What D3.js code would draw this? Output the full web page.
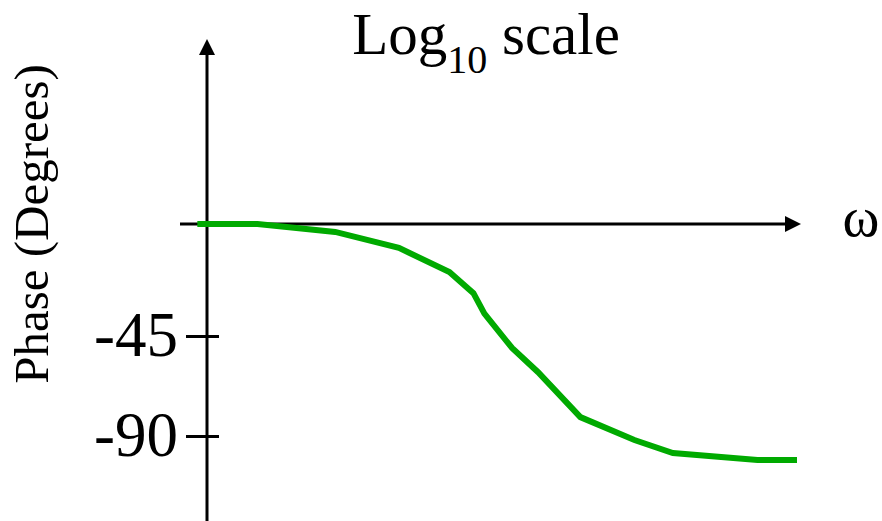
<!DOCTYPE html>
<html>
<head>
<meta charset="utf-8">
<script src="https://cdn.jsdelivr.net/npm/d3@7"></script>
<style>
  html, body { margin: 0; padding: 0; background: #fff; }
  svg { display: block; }
  text { font-family: "Liberation Serif", "Times New Roman", serif; fill: #000; }
</style>
</head>
<body>
<svg id="chart" width="882" height="521"></svg>
<script>
// ---- data ----
const omega = [0.0086, 0.022, 0.074, 0.20, 0.44, 0.64, 0.76, 1.17, 1.75, 3.4, 7.9, 14.4, 54, 100];
const phase = [0, 0, -3.2, -9.6, -19.3, -27.8, -36.0, -50.4, -61.2, -81.5, -91.8, -97.7, -100.8, -100.8];
const yTickValues = [-45, -90];
const yTickLabels = ["-45", "-90"];
const titleMain = "Log";
const titleSub = "10";
const titleRest = " scale";
const yLabel = "Phase (Degrees)";
const xLabel = "ω";

const svg = d3.select("#chart");
const W = 882, H = 521;

// scales
const x = d3.scaleLog().domain([0.01, 100]).range([207, 797]);
const y = d3.scaleLinear().domain([0, -45, -90]).range([224, 336, 436]);

const axisX = x(0.01);
const axisY = y(0);

// arrow marker
const defs = svg.append("defs");
defs.append("marker")
  .attr("id", "arrow")
  .attr("viewBox", "0 0 16 16")
  .attr("refX", 1).attr("refY", 8)
  .attr("markerWidth", 16).attr("markerHeight", 16)
  .attr("markerUnits", "userSpaceOnUse")
  .attr("orient", "auto")
  .append("path")
  .attr("d", "M0,0 L16,8 L0,16 Z")
  .attr("fill", "#000");

// horizontal axis (phase = 0)
svg.append("line")
  .attr("x1", 180).attr("y1", axisY)
  .attr("x2", 786).attr("y2", axisY)
  .attr("stroke", "#000").attr("stroke-width", 3)
  .attr("marker-end", "url(#arrow)");

// vertical axis
svg.append("line")
  .attr("x1", axisX).attr("y1", H)
  .attr("x2", axisX).attr("y2", 54)
  .attr("stroke", "#000").attr("stroke-width", 3)
  .attr("marker-end", "url(#arrow)");

// y ticks via d3 axis
const yAxis = d3.axisLeft(y)
  .tickValues(yTickValues)
  .tickFormat((d, i) => yTickLabels[i])
  .tickSizeInner(21)
  .tickSizeOuter(0)
  .tickPadding(8);

const gy = svg.append("g")
  .attr("transform", `translate(${axisX},0)`)
  .call(yAxis);
gy.select(".domain").remove();
gy.selectAll(".tick line")
  .attr("x1", 12)
  .attr("stroke", "#000")
  .attr("stroke-width", 3);
gy.selectAll(".tick text")
  .attr("font-family", "Liberation Serif, Times New Roman, serif")
  .attr("font-size", 63)
  .attr("fill", "#000")
  .attr("dy", "0.31em");

// phase curve
const pts = omega.map((w, i) => [w, phase[i]]);
svg.append("path")
  .datum(pts)
  .attr("fill", "none")
  .attr("stroke", "#00aa00")
  .attr("stroke-width", 6)
  .attr("stroke-linejoin", "miter")
  .attr("d", d3.line().x(d => x(d[0])).y(d => y(d[1])));

// title
const t = svg.append("text")
  .attr("x", 486).attr("y", 54)
  .attr("text-anchor", "middle")
  .attr("font-size", 59);
t.append("tspan").text(titleMain);
t.append("tspan").attr("font-size", 40).attr("dy", 19).text(titleSub);
t.append("tspan").attr("dy", -19).text(titleRest);

// omega label
svg.append("text")
  .attr("x", 861).attr("y", 236)
  .attr("text-anchor", "middle")
  .attr("font-size", 56)
  .text(xLabel);

// y label
svg.append("text")
  .attr("transform", "translate(48,224) rotate(-90)")
  .attr("text-anchor", "middle")
  .attr("font-size", 49)
  .text(yLabel);
</script>
</body>
</html>
